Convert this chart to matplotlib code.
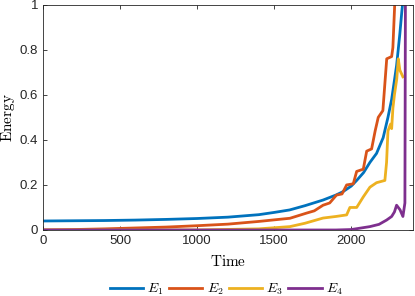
import matplotlib
matplotlib.use("Agg")
import matplotlib.pyplot as plt

plt.rcParams['mathtext.fontset'] = 'cm'
plt.rcParams['font.family'] = ['Liberation Sans', 'DejaVu Sans']

t1 = [0, 200, 400, 600, 800, 1000, 1200, 1400, 1500, 1600, 1700, 1817, 1900, 1946, 2000, 2035, 2080, 2121, 2164, 2207, 2238, 2262, 2294, 2315, 2328, 2340]
e1 = [0.040, 0.041, 0.042, 0.044, 0.047, 0.051, 0.057, 0.068, 0.078, 0.089, 0.108, 0.133, 0.155, 0.170, 0.195, 0.220, 0.255, 0.300, 0.340, 0.410, 0.500, 0.580, 0.730, 0.870, 0.970, 1.05]

t2 = [0, 200, 400, 600, 800, 1000, 1200, 1400, 1500, 1602, 1710, 1760, 1817, 1860, 1904, 1940, 1970, 2013, 2035, 2078, 2100, 2132, 2155, 2175, 2205, 2230, 2262, 2270, 2283]
e2 = [0.0, 0.002, 0.005, 0.009, 0.013, 0.019, 0.026, 0.038, 0.045, 0.052, 0.075, 0.085, 0.110, 0.120, 0.155, 0.160, 0.200, 0.205, 0.260, 0.270, 0.350, 0.360, 0.440, 0.500, 0.530, 0.760, 0.770, 0.810, 1.02]

t3 = [0, 1000, 1400, 1602, 1700, 1817, 1900, 1970, 1991, 2035, 2078, 2121, 2164, 2218, 2229, 2238, 2255, 2262, 2270, 2280, 2295, 2305, 2315, 2335]
e3 = [0.0, 0.0, 0.005, 0.015, 0.030, 0.053, 0.060, 0.067, 0.100, 0.100, 0.147, 0.190, 0.210, 0.220, 0.300, 0.440, 0.470, 0.450, 0.540, 0.600, 0.670, 0.760, 0.710, 0.680]

t4 = [0, 1900, 2000, 2121, 2180, 2229, 2262, 2280, 2294, 2316, 2335, 2348, 2352]
e4 = [0.0, 0.0, 0.002, 0.015, 0.025, 0.044, 0.060, 0.080, 0.110, 0.090, 0.060, 0.120, 1.2]

labels = [r'$E_1$', r'$E_2$', r'$E_3$', r'$E_4$']
colors = ['#0072BD', '#D95319', '#EDB120', '#7E2F8E']

fig = plt.figure(figsize=(4.15, 2.96), dpi=100)
ax = fig.add_axes([0.1036, 0.223, 0.8914, 0.761])
for t, e, lab, c in zip([t1, t2, t3, t4], [e1, e2, e3, e4], labels, colors):
    ax.plot(t, e, color=c, lw=2, label=lab)

ax.set_xlim(0, 2400)
ax.set_ylim(0, 1)
ax.set_xticks([0, 500, 1000, 1500, 2000])
ax.set_yticks([0, 0.2, 0.4, 0.6, 0.8, 1])
ax.set_yticklabels(['0', '0.2', '0.4', '0.6', '0.8', '1'])
ax.tick_params(direction='in', top=True, right=True, labelsize=9.5, colors='#262626', length=3, width=0.6)
for s in ax.spines.values():
    s.set_color('#262626')
    s.set_linewidth(0.6)
ax.set_xlabel(r'$\mathrm{Time}$', fontsize=11, labelpad=5)
ax.set_ylabel(r'$\mathrm{Energy}$', fontsize=11, labelpad=2)

fig.legend(loc='center', bbox_to_anchor=(0.545, 0.022), ncol=4, frameon=False,
           fontsize=10, handlelength=2.4, columnspacing=0.4, handletextpad=0.3)

fig.savefig('out.png', dpi=100)
